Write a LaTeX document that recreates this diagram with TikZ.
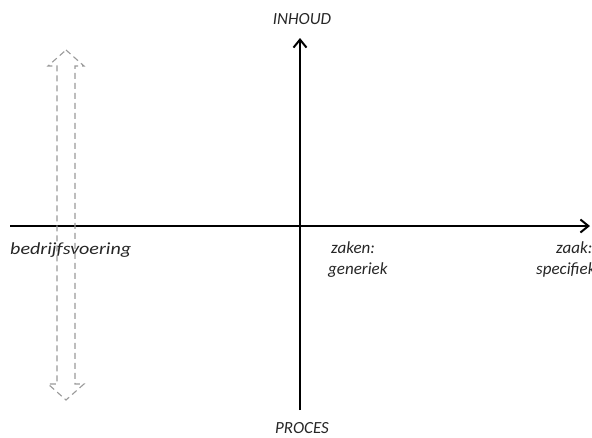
\documentclass[tikz,border=0pt]{standalone}
\usepackage{fontspec}
\setmainfont{Carlito}
\usetikzlibrary{arrows.meta}
\begin{document}
\begin{tikzpicture}[x=1pt,y=-1pt,
  axis/.style={line width=2.6pt,black,-{Straight Barb[length=8pt,width=13pt,line width=2pt]}},
  lbl/.style={font=\itshape\fontsize{17}{20}\selectfont,text=black!85,inner sep=0pt},
  dashedarrow/.style={draw=black!40,line width=1.1pt,dash pattern=on 6pt off 4pt}]
\useasboundingbox (0,0) rectangle (592,437);
\begin{scope}
\clip (0,0) rectangle (592,437);
% axes
\coordinate (xl) at (10,226);
\coordinate (xr) at (590,226);
\coordinate (yb) at (300,410);
\coordinate (yt) at (300,38);
\draw[axis] (xl) -- (xr);
\draw[axis] (yb) -- (yt);
% labels
\node[lbl] (inhoud) at (302,19) {INHOUD};
\node[lbl] (proces) at (302,428) {PROCES};
\node[lbl,anchor=west,xscale=1.18] (bedr) at (10,250) {bedrijfsvoering};
\node[lbl,anchor=west] (zaken) at (331,248) {zaken:};
\node[lbl,anchor=west] (gen) at (328,270) {generiek};
\node[lbl,anchor=west] (zaak) at (556,248) {zaak:};
\node[lbl,anchor=west] (spec) at (536,270) {specifiek};
% dashed double arrow
\draw[dashedarrow] (66,50) -- (84,66) -- (75,66) -- (75,384) -- (84,384) -- (66,400)
  -- (48,384) -- (57,384) -- (57,66) -- (48,66) -- cycle;
\end{scope}
\end{tikzpicture}
\end{document}
